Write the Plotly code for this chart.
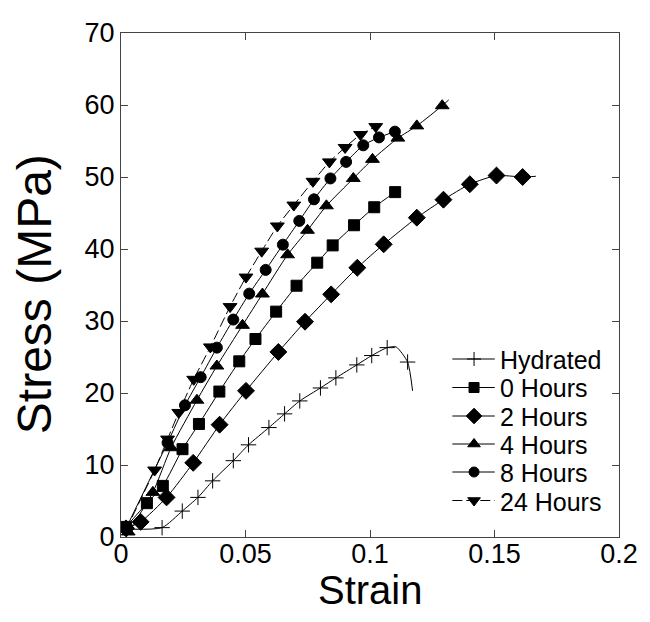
import plotly.graph_objects as go

# ---- data ----
series_names = ["Hydrated", "0 Hours", "2 Hours", "4 Hours", "8 Hours", "24 Hours"]

hyd_strain = [0.0023, 0.0165, 0.0246, 0.0309, 0.0368, 0.0451, 0.0512, 0.0594, 0.0657,
              0.0718, 0.0801, 0.0863, 0.0947, 0.1007, 0.1069, 0.1105, 0.1151, 0.1171]
hyd_stress = [1.1, 1.3, 3.6, 5.5, 7.8, 10.6, 12.8, 15.2, 17.1,
              18.9, 20.7, 22.1, 23.9, 25.2, 26.3, 26.4, 24.3, 20.3]
hyd_marked = [1, 1, 1, 1, 1, 1, 1, 1, 1, 1, 1, 1, 1, 1, 1, 0, 1, 0]

h0_strain = [0.002, 0.0104, 0.0168, 0.0247, 0.0313, 0.0395, 0.0475, 0.054, 0.0623,
             0.0705, 0.0788, 0.085, 0.0936, 0.1017, 0.1101]
h0_stress = [1.4, 4.7, 7.1, 12.2, 15.7, 20.2, 24.4, 27.5, 31.3,
             34.9, 38.1, 40.5, 43.3, 45.8, 47.9]
h0_marked = [1] * 15

h2_strain = [0.002, 0.0079, 0.0183, 0.029, 0.0396, 0.0502, 0.0632, 0.0739, 0.0844,
             0.0949, 0.1055, 0.1188, 0.1295, 0.1401, 0.1508, 0.1613, 0.1666]
h2_stress = [1.2, 2.1, 5.5, 10.3, 15.6, 20.3, 25.7, 29.9, 33.7,
             37.4, 40.65, 44.35, 46.85, 49.0, 50.2, 50.0, 50.1]
h2_marked = [1] * 16 + [0]

h4_strain = [0.0029, 0.0128, 0.0201, 0.0305, 0.0385, 0.0488, 0.0568, 0.0669, 0.0749,
             0.0825, 0.0933, 0.101, 0.1112, 0.1188, 0.129, 0.1316]
h4_stress = [0.7, 6.2, 12.4, 19.0, 23.75, 29.4, 33.75, 39.2, 42.6,
             46.0, 49.8, 52.45, 55.4, 57.1, 59.9, 60.7]
h4_marked = [1] * 15 + [0]

h8_strain = [0.002, 0.0187, 0.0257, 0.032, 0.0385, 0.0451, 0.0515, 0.0581, 0.065,
             0.0716, 0.0775, 0.0841, 0.0904, 0.0973, 0.1036, 0.11]
h8_stress = [1.2, 13.1, 18.3, 22.2, 26.3, 30.2, 33.8, 37.1, 40.6,
             43.9, 46.9, 49.8, 52.1, 54.4, 55.5, 56.3]
h8_marked = [1] * 16

h24_strain = [0.002, 0.0135, 0.0187, 0.0232, 0.0292, 0.0359, 0.0438, 0.0502, 0.0565,
              0.0628, 0.0694, 0.0771, 0.0837, 0.09, 0.0962, 0.1023]
h24_stress = [1.0, 9.3, 13.6, 17.3, 21.9, 26.4, 32.0, 36.1, 39.7,
              43.2, 46.1, 49.4, 52.1, 54.1, 55.9, 57.0]
h24_marked = [1] * 16

x_tickvals = [0, 0.05, 0.1, 0.15, 0.2]
x_ticktext = ["0", "0.05", "0.1", "0.15", "0.2"]
y_tickvals = [0, 10, 20, 30, 40, 50, 60, 70]
y_ticktext = ["0", "10", "20", "30", "40", "50", "60", "70"]

# ---- styling / layout constants ----
FONT = "Liberation Sans, Arial, sans-serif"
W, H = 650, 622
PL, PR, PT, PB = 121, 626, 33, 537          # plot area in pixels


def fx(px):
    return (px - PL) / (PR - PL)


def fy(py):
    return (PB - py) / (PB - PT)


styles = [
    ("cross-thin", 11, "solid"),
    ("square", 11, "solid"),
    ("diamond", 13, "solid"),
    ("triangle-up", 12, "solid"),
    ("circle", 11, "solid"),
    ("triangle-down", 12, "10px,4px"),
]
data = [
    (hyd_strain, hyd_stress, hyd_marked),
    (h0_strain, h0_stress, h0_marked),
    (h2_strain, h2_stress, h2_marked),
    (h4_strain, h4_stress, h4_marked),
    (h8_strain, h8_stress, h8_marked),
    (h24_strain, h24_stress, h24_marked),
]

fig = go.Figure()
for name, (xs, ys, mk), (sym, sz, dash) in zip(series_names, data, styles):
    fig.add_trace(go.Scatter(
        x=xs, y=ys, name=name, mode="lines+markers", showlegend=False,
        line=dict(color="black", width=1, shape="spline", smoothing=0.6, dash=dash),
        marker=dict(symbol=sym, size=[sz if m else 0 for m in mk], color="black",
                    opacity=1, line=dict(color="black", width=1)),
    ))

# ---- hand-built legend (overlay axis in plot-area fractions) ----
LEG_ROWS = [359, 387.5, 416, 444, 472, 500.5]
LEG_X0, LEG_X1, LEG_XM, LEG_TX = 457, 500, 479, 503
annotations = []
for name, (sym, sz, dash), ry in zip(series_names, styles, LEG_ROWS):
    fig.add_trace(go.Scatter(
        x=[fx(LEG_X0), fx(LEG_XM), fx(LEG_X1)], y=[fy(ry)] * 3,
        xaxis="x2", yaxis="y2", mode="lines+markers", showlegend=False,
        hoverinfo="skip",
        line=dict(color="black", width=1, dash=dash),
        marker=dict(symbol=sym, size=[0, sz - 1, 0], color="black", opacity=1,
                    line=dict(color="black", width=1)),
    ))
    annotations.append(dict(
        text=name, xref="paper", yref="paper", x=fx(LEG_TX), y=fy(ry + 1),
        xanchor="left", yanchor="middle", showarrow=False,
        font=dict(family=FONT, size=25, color="black"),
    ))

# axis titles
annotations.append(dict(text="Strain", xref="paper", yref="paper",
                        x=fx(374), y=fy(590), xanchor="center", yanchor="middle",
                        showarrow=False, font=dict(family=FONT, size=40, color="black")))
annotations.append(dict(text="Stress (MPa)", xref="paper", yref="paper",
                        x=fx(34), y=fy(294), xanchor="center", yanchor="middle",
                        textangle=-90, showarrow=False,
                        font=dict(family=FONT, size=48, color="black")))

axis_common = dict(
    showline=True, linecolor="#444", linewidth=1, mirror="ticks",
    ticks="inside", ticklen=7, tickcolor="#444", tickwidth=1,
    showgrid=False, zeroline=False,
    tickfont=dict(family=FONT, size=27, color="black"),
)

fig.update_layout(
    width=W, height=H,
    margin=dict(l=PL, r=W - PR, t=PT, b=H - PB),
    paper_bgcolor="white", plot_bgcolor="white",
    showlegend=False,
    xaxis=dict(range=[0, 0.2], tickvals=x_tickvals, ticktext=x_ticktext,
               ticklabelstandoff=-7, **axis_common),
    yaxis=dict(range=[0, 70], tickvals=y_tickvals, ticktext=y_ticktext,
               **axis_common),
    xaxis2=dict(range=[0, 1], overlaying="x", visible=False, fixedrange=True),
    yaxis2=dict(range=[0, 1], overlaying="y", visible=False, fixedrange=True),
    annotations=annotations,
)

fig.write_html("out.html")
